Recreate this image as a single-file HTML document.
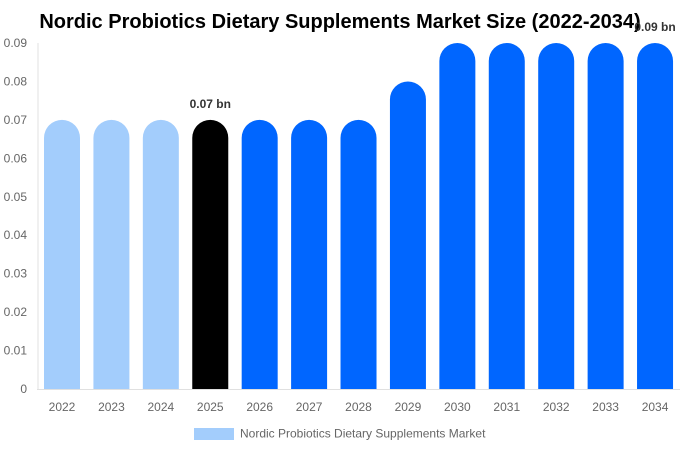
<!DOCTYPE html>
<html><head><meta charset="utf-8"><style>
body{margin:0;background:#fff;font-family:"Liberation Sans",sans-serif}
</style></head><body>
<svg id="c" width="680" height="450" xmlns="http://www.w3.org/2000/svg">
<text x="340" y="28" text-anchor="middle" font-size="20" font-weight="bold" fill="#000">Nordic Probiotics Dietary Supplements Market Size (2022-2034)</text>
<line x1="38" y1="43" x2="38" y2="389" stroke="#e0e0e0"/>
<line x1="37" y1="389.5" x2="680" y2="389.5" stroke="#e0e0e0"/>
<g id="bars"></g>
<rect x="194" y="428" width="40" height="12" fill="#a3cdfc"/>
<text x="240" y="437.5" font-size="12" fill="#666">Nordic Probiotics Dietary Supplements Market</text>
</svg>
<script>
const categories=["2022","2023","2024","2025","2026","2027","2028","2029","2030","2031","2032","2033","2034"];
const values=[0.07,0.07,0.07,0.07,0.07,0.07,0.07,0.08,0.09,0.09,0.09,0.09,0.09];
const yTicks=[0,0.01,0.02,0.03,0.04,0.05,0.06,0.07,0.08,0.09];
const yTickLabels=["0","0.01","0.02","0.03","0.04","0.05","0.06","0.07","0.08","0.09"];
const labeled={3:"0.07 bn",12:"0.09 bn"};
const NS="http://www.w3.org/2000/svg";
const svg=document.getElementById('c'),g=document.getElementById('bars');
const y=v=>389-v/0.09*346;
const x=i=>62+i*49.42;
function mk(t,a,p){const e=document.createElementNS(NS,t);for(const k in a)e.setAttribute(k,a[k]);(p||svg).appendChild(e);return e;}
yTicks.forEach((v,i)=>{const t=mk('text',{x:27,y:y(v)+4,'text-anchor':'end','font-size':12,fill:'#666'});


t.textContent=yTickLabels[i];});
categories.forEach((c,i)=>{
const v=values[i],top=y(v),w=36,r=18,cx=x(i),l=cx-w/2;
const col=i<3?'#a3cdfc':(i==3?'#000000':'#0066ff');
const p=mk('path',{d:`M${l},389 L${l},${top+r} A${r},${r} 0 0 1 ${l+w},${top+r} L${l+w},389 Z`,fill:col},g);


const t=mk('text',{x:cx,y:411,'text-anchor':'middle','font-size':12,fill:'#666'});


t.textContent=c;
if(labeled[i]){const lb=mk('text',{x:cx,y:top-12,'text-anchor':'middle','font-size':12,'font-weight':'bold',fill:'#333'});


lb.textContent=labeled[i];}
});
</script>
</body></html>
